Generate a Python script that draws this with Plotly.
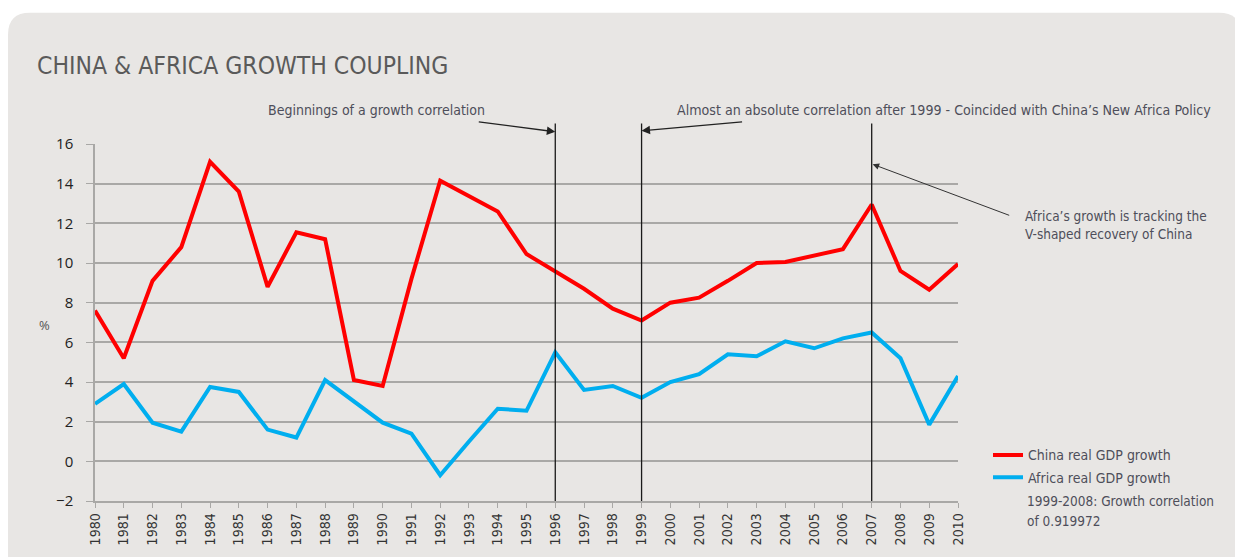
import plotly.graph_objects as go

years = [1980, 1981, 1982, 1983, 1984, 1985, 1986, 1987, 1988, 1989, 1990,
         1991, 1992, 1993, 1994, 1995, 1996, 1997, 1998, 1999, 2000,
         2001, 2002, 2003, 2004, 2005, 2006, 2007, 2008, 2009, 2010]
china_gdp = [7.6, 5.2, 9.1, 10.8, 15.1, 13.6, 8.8, 11.55, 11.2, 4.1, 3.8,
             9.2, 14.15, 13.4, 12.6, 10.45, 9.6, 8.7, 7.7, 7.1, 8.0,
             8.25, 9.1, 10.0, 10.05, 10.35, 10.7, 12.95, 9.6, 8.65, 9.95]
africa_gdp = [2.9, 3.9, 1.95, 1.5, 3.75, 3.5, 1.6, 1.2, 4.1, 3.0, 1.95,
              1.4, -0.7, 1.0, 2.65, 2.55, 5.5, 3.6, 3.8, 3.2, 4.0,
              4.4, 5.4, 5.3, 6.05, 5.7, 6.2, 6.5, 5.2, 1.85, 4.3]
y_ticks = [-2, 0, 2, 4, 6, 8, 10, 12, 14, 16]
marker_years = [1996, 1999, 2007]

title_text = "CHINA &amp; AFRICA GROWTH COUPLING"
note_1996 = "Beginnings of a growth correlation"
note_1999 = "Almost an absolute correlation after 1999 - Coincided with China\u2019s New Africa Policy"
note_2007 = "Africa\u2019s growth is tracking the<br>V-shaped recovery of China"
corr_lines = ["1999-2008: Growth correlation", "of 0.919972"]

NARROW = "Liberation Sans Narrow, DejaVu Sans Condensed, Arial Narrow, sans-serif"
TXT = "#4e4e5a"
GRID = "#a9a8a6"
PANEL = "#e8e6e4"

# screen-pixel helpers (plot area in screen: x 95..958, y 144..503)
def px(x):
    return (x - 95) / 863


def py(y):
    return (503 - y) / 359


fig = go.Figure()
fig.add_trace(go.Scatter(x=years, y=china_gdp, mode="lines", name="China real GDP growth",
                         line=dict(color="#ff0000", width=4), legendgroup="a"))
fig.add_trace(go.Scatter(x=years, y=africa_gdp, mode="lines", name="Africa real GDP growth",
                         line=dict(color="#00aeef", width=4), legendgroup="b"))

# Panel background with rounded top corners
rx, ry = 22 / 863, 22 / 359
x0p, x1p, y0p, y1p = px(8), px(1241), -0.3, py(12)
path = (f"M {x0p},{y0p} L {x0p},{y1p - ry} Q {x0p},{y1p} {x0p + rx},{y1p} "
        f"L {x1p - rx},{y1p} Q {x1p},{y1p} {x1p},{y1p - ry} L {x1p},{y0p} Z")
fig.add_shape(type="path", path=path, xref="paper", yref="paper",
              fillcolor=PANEL, line=dict(width=0), layer="below")

# Vertical marker lines
for yr in marker_years:
    fig.add_shape(type="line", xref="x", yref="paper", x0=yr, x1=yr, y0=0,
                  y1=py(123.3), line=dict(color="#1a1a1a", width=1.3))

annotations = [
    dict(text=title_text, xref="paper", yref="paper", x=px(35), y=py(65),
         xanchor="left", yanchor="middle", showarrow=False,
         font=dict(family=NARROW, size=24.5, color="#5a5a5a")),
    dict(text="%", xref="paper", yref="paper", x=px(44), y=py(326),
         xanchor="center", yanchor="middle", showarrow=False,
         font=dict(family="Open Sans, sans-serif", size=13, color="#555")),
    dict(text=note_1996, xref="paper", yref="paper", x=px(266), y=py(110),
         xanchor="left", yanchor="middle", showarrow=False,
         font=dict(family=NARROW, size=14, color=TXT)),
    dict(text=note_1999, xref="paper", yref="paper", x=px(675), y=py(110),
         xanchor="left", yanchor="middle", showarrow=False,
         font=dict(family=NARROW, size=14.1, color=TXT)),
    dict(text=note_2007, xref="paper", yref="paper", x=px(1023), y=py(225),
         xanchor="left", yanchor="middle", align="left", showarrow=False,
         font=dict(family=NARROW, size=13.5, color=TXT)),
    dict(text="", xref="x", yref="paper", x=marker_years[0], y=py(131.7),
         showarrow=True, ax=-78, ay=-10, arrowhead=2, arrowsize=1.3, arrowwidth=1.3,
         arrowcolor="#222", standoff=0),
    dict(text="", xref="x", yref="paper", x=marker_years[1], y=py(130.7),
         showarrow=True, ax=102, ay=-9, arrowhead=2, arrowsize=1.3, arrowwidth=1.3,
         arrowcolor="#222", standoff=0),
    dict(text="", xref="x", yref="paper", x=marker_years[2], y=py(164),
         showarrow=True, ax=139, ay=52, arrowhead=2, arrowsize=1.3, arrowwidth=1.0,
         arrowcolor="#333", standoff=1),
]
for i, line in enumerate(corr_lines):
    annotations.append(dict(text=line, xref="paper", yref="paper", x=px(1025),
                            y=py(502.5 + 21 * i), xanchor="left", yanchor="middle",
                            showarrow=False, font=dict(family=NARROW, size=13.5, color=TXT)))

# The page body adds an 8px offset, so the figure is 8px smaller on each side
fig.update_layout(
    width=1235, height=549,
    margin=dict(l=87, r=285, t=136, b=54, pad=0),
    paper_bgcolor="white", plot_bgcolor="rgba(0,0,0,0)",
    showlegend=True,
    legend=dict(x=px(988), y=py(441), xanchor="left", yanchor="top",
                bgcolor="rgba(0,0,0,0)", font=dict(family=NARROW, size=14, color=TXT),
                tracegroupgap=1, itemwidth=30),
    annotations=annotations,
    xaxis=dict(range=[1980, 2010], tickmode="array", tickvals=years,
               ticktext=[str(y) for y in years], tickangle=-90,
               showgrid=False, zeroline=False, showline=True, linecolor=GRID, linewidth=1.5,
               ticks="outside", ticklen=5, tickcolor=GRID, tickwidth=1.3,
               tickfont=dict(family=NARROW, size=14, color="#333")),
    yaxis=dict(range=[-2, 16], tickmode="array", tickvals=y_ticks,
               showgrid=True, gridcolor=GRID, gridwidth=1.5, zeroline=False,
               showline=True, linecolor=GRID, linewidth=1.5,
               ticks="outside", ticklen=7, tickcolor=GRID, tickwidth=1.3,
               ticklabelstandoff=10,
               tickfont=dict(family="Open Sans, sans-serif", size=15, color="#222")),
)

fig.write_html("out.html")
